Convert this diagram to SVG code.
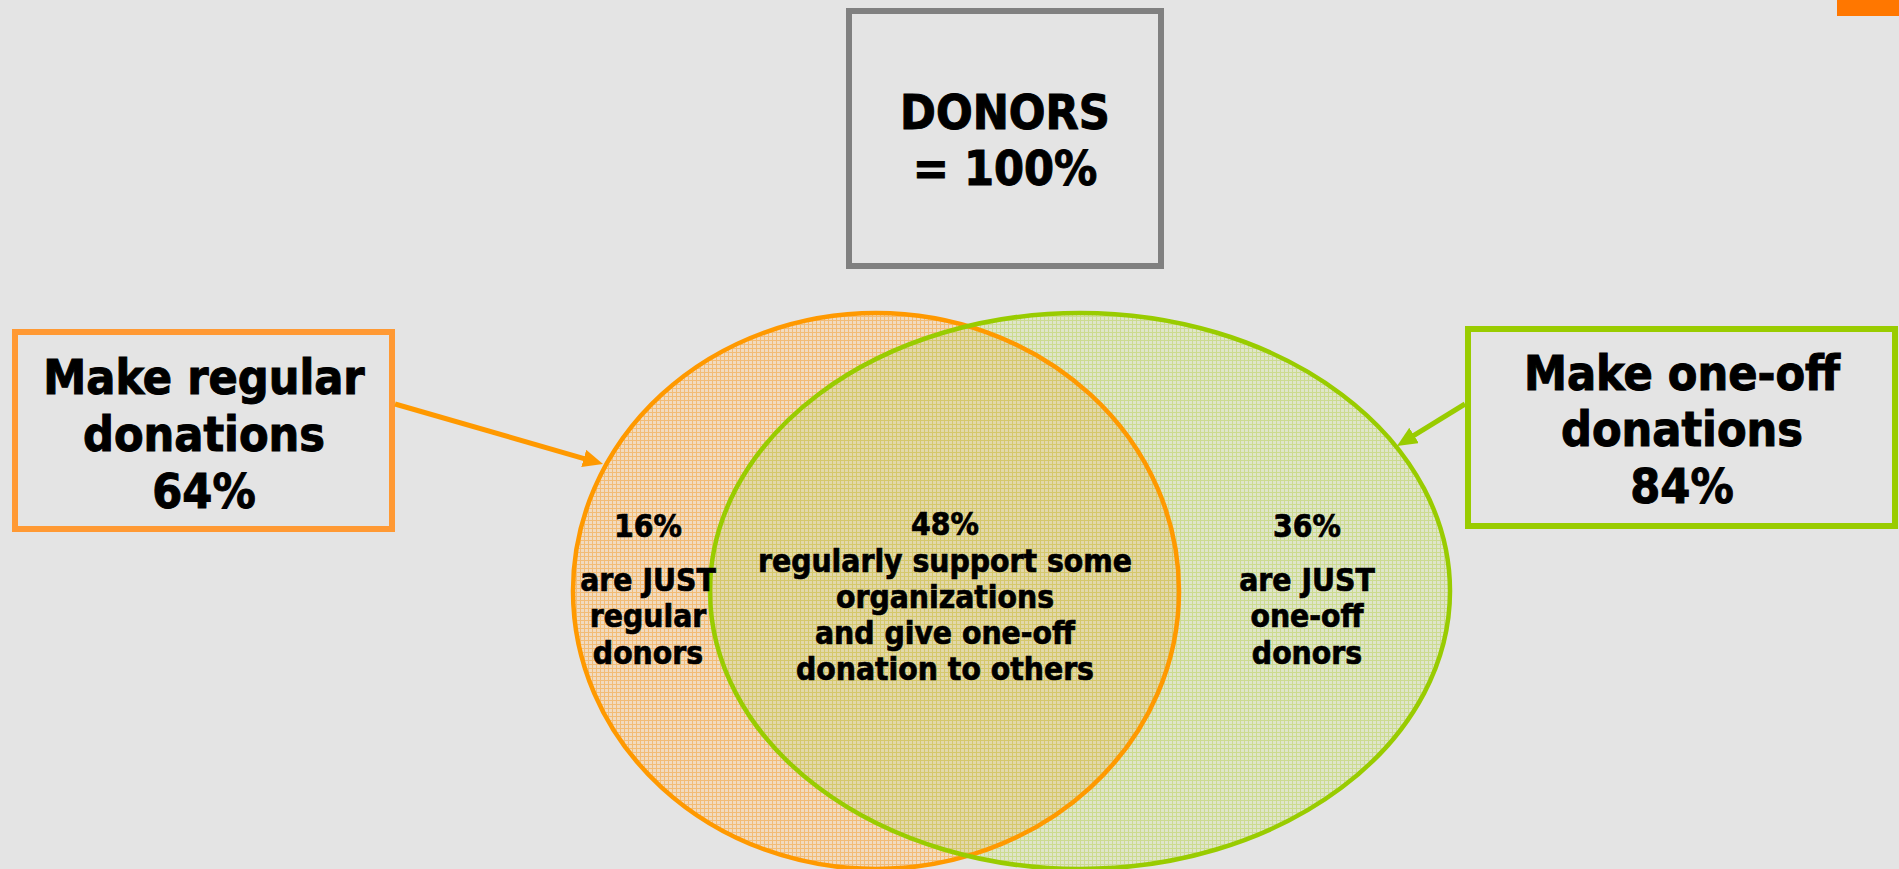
<svg xmlns="http://www.w3.org/2000/svg" width="1899" height="869" viewBox="0 0 1899 869">
  <style>
    .t { font-family: "DejaVu Sans Condensed", "DejaVu Sans", sans-serif; font-weight: bold; fill: #000; stroke: #000; text-anchor: middle; }
    .big { font-size: 48px; stroke-width: 1; }
    .small { font-size: 31.5px; stroke-width: 0.7; }
    .box { fill: none; stroke-width: 6; }
  </style>
  <defs>
    <!-- fine cross-hatch textures for the set areas -->
    <pattern id="texOrange" width="4" height="4" patternUnits="userSpaceOnUse">
      <rect width="4" height="4" fill="#F1DBC0"/>
      <rect width="4" height="1" fill="#F2BC76"/>
      <rect width="1" height="4" fill="#F2BC76"/>
    </pattern>
    <pattern id="texGreen" width="4" height="4" patternUnits="userSpaceOnUse">
      <rect width="4" height="4" fill="#DFE5CA"/>
      <rect width="4" height="1" fill="#CCDB90"/>
      <rect width="1" height="4" fill="#CCDB90"/>
    </pattern>
    <pattern id="texBoth" width="4" height="4" patternUnits="userSpaceOnUse">
      <rect width="4" height="4" fill="#E2D8AA"/>
      <rect width="4" height="1" fill="#D5C86C"/>
      <rect width="1" height="4" fill="#D5C86C"/>
    </pattern>
    <clipPath id="clipRegular">
      <ellipse cx="876" cy="591" rx="303" ry="278"/>
    </clipPath>
    <marker id="headOrange" viewBox="0 0 20 18" refX="12" refY="9" markerWidth="20" markerHeight="18" markerUnits="userSpaceOnUse" orient="auto">
      <path d="M0,0 L20,9 L0,18 Z" fill="#FF9900"/>
    </marker>
    <marker id="headGreen" viewBox="0 0 20 18" refX="12" refY="9" markerWidth="20" markerHeight="18" markerUnits="userSpaceOnUse" orient="auto">
      <path d="M0,0 L20,9 L0,18 Z" fill="#99CC00"/>
    </marker>
  </defs>

  <rect width="1899" height="869" fill="#E4E4E4"/>
  <rect x="1837" y="0" width="62" height="16" fill="#FF7700"/>

  <!-- Venn: regular vs one-off donors -->
  <g id="venn">
    <ellipse cx="876" cy="591" rx="303" ry="278" fill="url(#texOrange)"/>
    <ellipse cx="1080" cy="591" rx="370" ry="278" fill="url(#texGreen)"/>
    <ellipse cx="1080" cy="591" rx="370" ry="278" fill="url(#texBoth)" clip-path="url(#clipRegular)"/>
    <ellipse cx="876" cy="591" rx="303" ry="278" fill="none" stroke="#FF9900" stroke-width="4.5"/>
    <ellipse cx="1080" cy="591" rx="370" ry="278" fill="none" stroke="#99CC00" stroke-width="4.5"/>
  </g>

  <g id="donors">
    <rect class="box" x="849" y="11" width="312" height="255" stroke="#808080"/>
    <text class="t big" x="1005" y="129">DONORS</text>
    <text class="t big" x="1005" y="185">= 100%</text>
  </g>

  <g id="regular">
    <rect class="box" x="15" y="332" width="377" height="197" stroke="#FF9933"/>
    <text class="t big" x="204" y="394">Make regular</text>
    <text class="t big" x="204" y="451">donations</text>
    <text class="t big" x="204" y="508">64%</text>
  </g>

  <g id="oneoff">
    <rect class="box" x="1468" y="329" width="427" height="197" stroke="#99CC00"/>
    <text class="t big" x="1682" y="390">Make one-off</text>
    <text class="t big" x="1682" y="446">donations</text>
    <text class="t big" x="1682" y="503">84%</text>
  </g>

  <g id="just-regular">
    <text class="t small" x="648" y="537">16%</text>
    <text class="t small" x="648" y="591">are JUST</text>
    <text class="t small" x="648" y="627">regular</text>
    <text class="t small" x="648" y="664">donors</text>
  </g>

  <g id="both">
    <text class="t small" x="945" y="535">48%</text>
    <text class="t small" x="945" y="572">regularly support some</text>
    <text class="t small" x="945" y="608">organizations</text>
    <text class="t small" x="945" y="644">and give one-off</text>
    <text class="t small" x="945" y="680">donation to others</text>
  </g>

  <g id="just-oneoff">
    <text class="t small" x="1307" y="537">36%</text>
    <text class="t small" x="1307" y="591">are JUST</text>
    <text class="t small" x="1307" y="627">one-off</text>
    <text class="t small" x="1307" y="664">donors</text>
  </g>

  <g id="connectors">
    <line x1="395" y1="404" x2="595.3" y2="461.8" stroke="#FF9900" stroke-width="5" marker-end="url(#headOrange)"/>
    <line x1="1465" y1="404" x2="1403.8" y2="441.7" stroke="#99CC00" stroke-width="5" marker-end="url(#headGreen)"/>
  </g>
</svg>
